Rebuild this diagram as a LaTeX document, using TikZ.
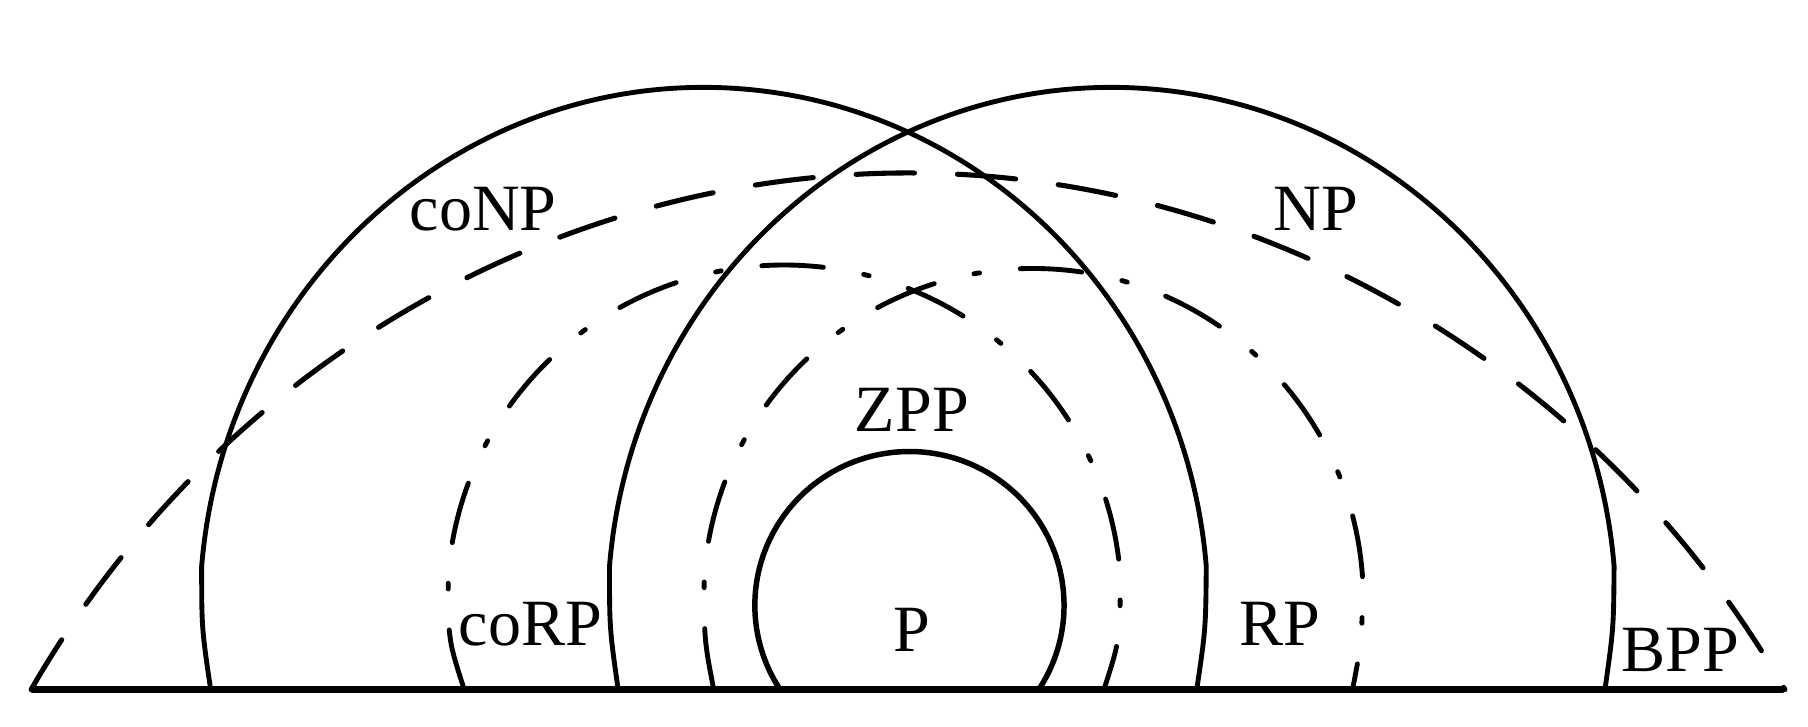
\documentclass[tikz,border=0pt]{standalone}
\usepackage{fontspec}
\setmainfont{Liberation Serif}
\begin{document}
\begin{tikzpicture}[x=0.01cm,y=0.01cm,
  solidarc/.style={line width=1.2pt, line cap=round, line join=round},
  pcurve/.style={line width=1.35pt},
  bppline/.style={line width=1.25pt, line cap=round, dash pattern=on 14.4pt off 10.6pt},
  rpline/.style={line width=1.2pt, line cap=round, dash pattern=on 15.2pt off 10.1pt on 1.4pt off 10.1pt},
  ground/.style={line width=1.5pt, line cap=round},
  lbl/.style={font=\fontsize{16.3}{18}\selectfont, inner sep=0pt, anchor=base}]
\useasboundingbox (0,0) rectangle (1568,630);

% coNP (solid, left)
\draw[solidarc] (182.7,32) .. controls (174.9,85) .. (174.9,139)
   arc[start angle=175.07, end angle=4.93, x radius=4.37cm, y radius=4.54cm]
   .. controls (1045.7,85) .. (1037.9,32);
% NP (solid, right)
\draw[solidarc] (536.1,32) .. controls (528.6,85) .. (528.6,139)
   arc[start angle=175.07, end angle=4.93, x radius=4.37cm, y radius=4.54cm]
   .. controls (1399.4,85) .. (1391.9,32);

% coRP (dash-dot, left)
\draw[rpline] (402.6,32) .. controls (388.7,75) .. (388.7,130)
   arc[start angle=176.045, end angle=3.955, x radius=2.92cm, y radius=2.90cm]
   .. controls (971.3,75) .. (957.4,32);
% RP (dash-dot, right)
\draw[rpline] (619,32) .. controls (610.7,75) .. (610.7,130)
   arc[start angle=176.004, end angle=3.996, x radius=2.86cm, y radius=2.87cm]
   .. controls (1181.3,75) .. (1173,32);

% P
\draw[pcurve] (900.9,32) arc[start angle=-33.2, end angle=213.2, x radius=1.34cm, y radius=1.333cm];

% BPP (dashed)
\draw[bppline] (27,32) .. controls (192,317.8) and (487.5,480) .. (787.5,480)
   .. controls (1087.5,480) and (1383,317.8) .. (1548,32);

% ground line
\draw[ground] (28,32) -- (1546,32);

% labels
\node[lbl] (conp) at (419,430.5) {coNP};
\node[lbl] (np)   at (1141,430.5) {NP};
\node[lbl] (zpp)  at (790.8,255.6) {ZPP};
\node[lbl] (p)    at (791,64.8) {P};
\node[lbl] (rp)   at (1110,70.6) {RP};
\node[lbl] (corp) at (460,70) {coRP};
\node[lbl] (bpp)  at (1457,48) {BPP};
\end{tikzpicture}
\end{document}
